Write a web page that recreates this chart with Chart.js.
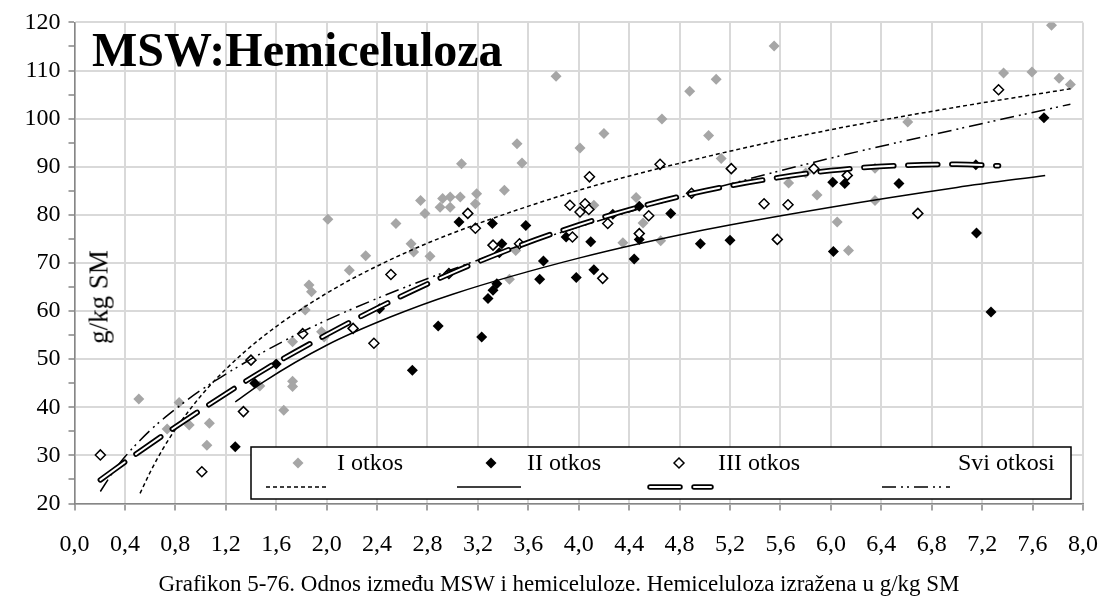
<!DOCTYPE html>
<html>
<head>
<meta charset="utf-8">
<title>MSW:Hemiceluloza</title>
<script src="https://cdn.jsdelivr.net/npm/chart.js@4.4.0/dist/chart.umd.min.js"></script>
<style>
    body { margin: 0; background: #fff; }
    #wrap {
        position: relative;
        width: 1118px;
        height: 603px;
        font-family: "Liberation Serif", "Times New Roman", serif;
        color: #000;
    }
    #chart { position: absolute; left: 0; top: 0; }
    .txt { position: absolute; white-space: nowrap; }
    .title { left: 92px; top: 26px; font-size: 48px; line-height: 48px; font-weight: bold; }
    .ylab { left: 99px; top: 297px; font-size: 27px; line-height: 27px; transform: translate(-50%, -50%) rotate(-90deg); }
    .leg { top: 450px; font-size: 24px; line-height: 24px; }
    .caption { left: 0; width: 1118px; top: 572px; text-align: center; font-size: 23px; line-height: 23px; }
</style>
</head>
<body>
<div id="wrap">
    <canvas id="chart" width="1118" height="603"></canvas>
    <div class="txt title">MSW:Hemiceluloza</div>
    <div class="txt ylab">g/kg SM</div>
    <div class="txt leg" style="left:337px">I otkos</div>
    <div class="txt leg" style="left:527px">II otkos</div>
    <div class="txt leg" style="left:718px">III otkos</div>
    <div class="txt leg" style="left:958px">Svi otkosi</div>
    <div class="txt caption">Grafikon 5-76. Odnos između MSW i hemiceluloze. Hemiceluloza izražena u g/kg SM</div>
</div>
<script>
// I otkos (sivi rombovi)
const iX = [0.51, 0.735, 0.83, 0.91, 1.05, 1.07, 1.47, 1.66, 1.73, 1.73, 1.73, 1.83, 1.86, 1.88, 1.96, 1.98,
    2.01, 2.18, 2.31, 2.55, 2.67, 2.69, 2.745, 2.78, 2.82, 2.90, 2.92, 2.98, 2.98, 3.06, 3.07, 3.18, 3.19,
    3.41, 3.45, 3.50, 3.51, 3.55, 3.82, 4.01, 4.12, 4.20, 4.35, 4.455, 4.51, 4.65, 4.66, 4.88, 5.03, 5.09,
    5.13, 5.55, 5.665, 5.80, 5.89, 6.05, 6.14, 6.35, 6.35, 6.61, 7.37, 7.595, 7.75, 7.81, 7.90];
const iY = [41.7, 35.5, 41.0, 36.3, 32.1, 36.7, 44.4, 39.4, 45.4, 44.3, 53.6, 60.2, 65.4, 64.0, 55.7, 54.6,
    79.1, 68.5, 71.5, 78.2, 74.0, 72.3, 83.0, 80.3, 71.4, 81.6, 83.4, 83.7, 81.6, 83.7, 90.6, 82.3, 84.4,
    85.1, 66.6, 72.6, 94.8, 90.8, 108.8, 93.9, 82.0, 96.9, 74.2, 83.6, 78.3, 74.6, 99.9, 105.7, 96.5, 108.2,
    91.7, 115.1, 86.6, 88.7, 84.1, 78.5, 72.6, 89.7, 83.0, 99.3, 109.5, 109.7, 119.4, 108.4, 107.1];

// II otkos (crni rombovi)
const iiX = [1.275, 1.43, 1.60, 2.42, 2.68, 2.885, 3.05, 3.23, 3.28, 3.32, 3.315, 3.35, 3.37, 3.39, 3.58,
    3.69, 3.72, 3.90, 3.98, 4.095, 4.12, 4.27, 4.44, 4.48, 4.48, 4.73, 4.965, 5.20, 6.015, 6.02, 6.11, 6.54,
    7.15, 7.155, 7.27, 7.69];
const iiY = [31.8, 45.0, 49.0, 60.5, 47.7, 56.9, 78.5, 54.6, 62.6, 64.3, 78.2, 65.7, 72.1, 74.0, 77.8,
    66.6, 70.4, 75.4, 67.0, 74.4, 68.6, 80.1, 70.8, 81.8, 74.9, 80.3, 74.0, 74.7, 86.8, 72.4, 86.5, 86.5,
    90.4, 76.2, 59.8, 100.2];

// III otkos (prazni rombovi)
const iiiX = [0.205, 1.01, 1.34, 1.40, 1.81, 2.21, 2.375, 2.51, 2.97, 3.12, 3.18, 3.32, 3.53, 3.93, 3.95,
    4.01, 4.05, 4.08, 4.085, 4.19, 4.23, 4.48, 4.555, 4.645, 4.895, 5.21, 5.47, 5.575, 5.66, 5.865, 6.13,
    6.69, 7.33];
const iiiY = [30.1, 26.6, 39.1, 49.8, 55.3, 56.4, 53.3, 67.6, 67.8, 80.3, 77.2, 73.7, 74.0, 82.0, 75.4,
    80.6, 82.3, 81.1, 87.9, 66.8, 78.2, 76.1, 79.8, 90.5, 84.5, 89.6, 82.3, 74.9, 82.1, 89.6, 88.2,
    80.3, 106.0];

// trend lines
const trendIX = [0.52, 0.6, 0.7, 0.8, 1.0, 1.2, 1.5, 2.0, 2.5, 3.0, 4.0, 5.0, 6.0, 7.0, 7.9];
const trendIY = [22.1, 26.5, 31.3, 35.4, 42.3, 47.9, 54.8, 63.7, 70.6, 76.2, 85.1, 92.0, 97.7, 102.4, 106.2];
const trendIIX = [1.275, 1.5, 2.0, 2.5, 3.0, 4.0, 5.0, 6.0, 7.0, 7.7];
const trendIIY = [41.1, 45.3, 52.9, 58.7, 63.5, 71.0, 76.9, 81.6, 85.7, 88.2];
const trendIIIX = [0.205, 0.5, 1.0, 1.5, 2.0, 2.5, 3.0, 3.5, 4.0, 4.5, 5.0, 5.5, 6.0, 6.5, 7.0, 7.33];
const trendIIIY = [24.9, 30.5, 39.4, 47.7, 55.1, 61.9, 68.0, 73.3, 77.9, 81.8, 85.0, 87.4, 89.2, 90.2, 90.5, 90.2];
const trendAllX = [0.205, 0.3, 0.4, 0.6, 0.8, 1.0, 1.5, 2.0, 3.0, 4.0, 5.0, 6.0, 7.0, 7.9];
const trendAllY = [22.5, 26.3, 29.7, 35.2, 39.6, 43.5, 51.5, 58.1, 68.7, 77.5, 85.0, 91.8, 97.8, 103.0];

const FONT = '"Liberation Serif", "Times New Roman", serif';
const GRID = '#d9d9d9';
const AXIS = '#868686';
const DASH_I = [4, 3];
const DASH_III = [30, 14];
const DASH_ALL = [14, 5, 2, 4, 2, 5];

function pts(xs, ys) {
    return xs.map((x, i) => ({ x: x, y: ys[i] }));
}

function trend(xs, ys, extra) {
    return Object.assign({
        data: pts(xs, ys),
        showLine: true,
        pointRadius: 0,
        borderColor: '#000',
        borderWidth: 1.5,
        fill: false,
        cubicInterpolationMode: 'monotone'
    }, extra);
}

// legend box in the lower part of the plot (texts are html on top)
const legendBox = {
    id: 'legendBox',
    afterDraw(chart) {
        const ctx = chart.ctx;
        ctx.save();
        ctx.fillStyle = '#fff';
        ctx.fillRect(251, 447, 820, 52);
        ctx.strokeStyle = '#000';
        ctx.lineWidth = 1.5;
        ctx.strokeRect(251, 447, 820, 52);

        const diamond = (x, y, r, fill, stroke) => {
            ctx.beginPath();
            ctx.moveTo(x - r, y); ctx.lineTo(x, y - r); ctx.lineTo(x + r, y); ctx.lineTo(x, y + r);
            ctx.closePath();
            ctx.fillStyle = fill;
            ctx.fill();
            if (stroke) { ctx.strokeStyle = stroke; ctx.lineWidth = 1.5; ctx.stroke(); }
        };
        diamond(298, 463, 5.5, '#a6a6a6');
        diamond(491, 463, 5.5, '#000');
        diamond(679, 463, 5, '#fff', '#000');

        const seg = (x1, x2, w, dash, color, cap) => {
            ctx.beginPath();
            ctx.setLineDash(dash);
            ctx.lineCap = cap || 'butt';
            ctx.lineWidth = w;
            ctx.strokeStyle = color;
            ctx.moveTo(x1, 487); ctx.lineTo(x2, 487);
            ctx.stroke();
        };
        seg(266, 328, 1.5, DASH_I, '#000');
        seg(457, 521, 1.5, [], '#000');
        seg(650, 711, 5.5, DASH_III, '#000', 'round');
        seg(650, 711, 2, DASH_III, '#fff', 'round');
        seg(882, 950, 1.5, DASH_ALL, '#000');
        ctx.restore();
    }
};

new Chart(document.getElementById('chart'), {
    type: 'scatter',
    data: {
        datasets: [
            { label: 'I otkos', data: pts(iX, iY), pointStyle: 'rectRot', pointRadius: 5.5,
              backgroundColor: '#a6a6a6', borderWidth: 0, order: 10 },
            { label: 'II otkos', data: pts(iiX, iiY), pointStyle: 'rectRot', pointRadius: 5.5,
              backgroundColor: '#000', borderWidth: 0, order: 9 },
            { label: 'III otkos', data: pts(iiiX, iiiY), pointStyle: 'rectRot', pointRadius: 5,
              backgroundColor: '#fff', borderColor: '#000', borderWidth: 1.5, order: 8 },
            trend(trendIX, trendIY, { borderDash: DASH_I, order: 3 }),
            trend(trendIIX, trendIIY, { order: 3 }),
            trend(trendIIIX, trendIIIY, { borderWidth: 5.5, borderDash: DASH_III, borderCapStyle: 'round', order: 2 }),
            trend(trendIIIX, trendIIIY, { borderWidth: 2, borderColor: '#fff', borderDash: DASH_III, borderCapStyle: 'round', order: 1 }),
            trend(trendAllX, trendAllY, { borderDash: DASH_ALL, order: 3 })
        ]
    },
    options: {
        responsive: false,
        animation: false,
        layout: { padding: { left: 0, right: 22, top: 22, bottom: 0 } },
        plugins: {
            legend: { display: false },
            tooltip: { enabled: false }
        },
        scales: {
            x: {
                type: 'linear',
                min: 0,
                max: 8,
                afterFit: (s) => { s.height = 99.5; },
                border: { color: AXIS, width: 1.5 },
                grid: { color: GRID, lineWidth: 2, tickLength: 7, tickColor: AXIS, tickWidth: 1.5 },
                ticks: {
                    stepSize: 0.4,
                    autoSkip: false,
                    maxRotation: 0,
                    padding: 20,
                    color: '#000',
                    font: { family: FONT, size: 24 },
                    callback: (v) => v.toFixed(1).replace('.', ',')
                }
            },
            y: {
                min: 20,
                max: 120,
                afterFit: (s) => { s.width = 74.5; },
                border: { color: AXIS, width: 1.5 },
                grid: {
                    color: (c) => (c.tick && c.tick.value % 10 === 0) ? GRID : 'rgba(0,0,0,0)',
                    lineWidth: 2, tickLength: 6, tickColor: AXIS, tickWidth: 1.5
                },
                ticks: {
                    stepSize: 5,
                    autoSkip: false,
                    padding: 8,
                    color: '#000',
                    font: { family: FONT, size: 24 },
                    callback: (v) => (v % 10 === 0) ? v : ''
                }
            }
        }
    },
    plugins: [legendBox]
});
</script>
</body>
</html>
